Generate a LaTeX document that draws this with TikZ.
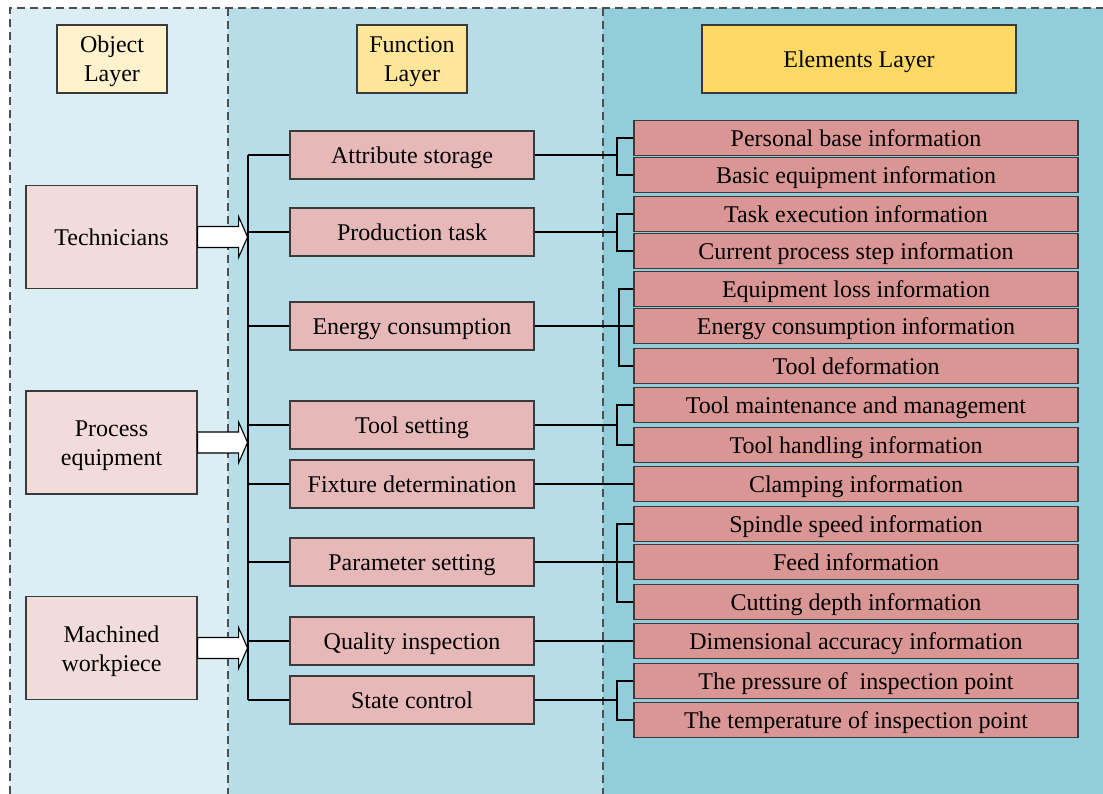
\documentclass[tikz,border=0pt]{standalone}
\usepackage{fontspec}
\setmainfont{Liberation Serif}
\usetikzlibrary{calc}
\definecolor{colA}{HTML}{DAEEF3}
\definecolor{colB}{HTML}{B7DEE8}
\definecolor{colC}{HTML}{92CDDC}
\definecolor{objfill}{HTML}{F2DCDB}
\definecolor{funfill}{HTML}{E6B9B8}
\definecolor{elfill}{HTML}{DA9694}
\definecolor{hdrA}{HTML}{FFF2CC}
\definecolor{hdrB}{HTML}{FFE699}
\definecolor{hdrC}{HTML}{FFD966}
\definecolor{edge}{HTML}{3A3A3A}
\begin{document}
\begin{tikzpicture}[x=1pt,y=-1pt,
  font=\fontsize{24}{29}\selectfont,
  box/.style={draw=edge,line width=1.1pt,inner sep=0pt,align=center,text=black},
  oneline/.style={text height=19.2pt,text depth=3pt},
  twoline/.style={text height=52pt,text depth=6pt},
  objbox/.style={box,fill=objfill,minimum width=171pt,minimum height=103pt},
  funbox/.style={box,oneline,fill=funfill,minimum width=244pt,minimum height=48pt},
  elbox/.style={box,oneline,fill=elfill,minimum width=444pt,minimum height=35pt},
  hdrbox/.style={box,minimum height=68pt},
  dashline/.style={draw=edge!90,line width=1.3pt,dash pattern=on 8pt off 5pt},
  wire/.style={draw=black,line width=1.1pt},
  blockarrow/.style={draw=black,fill=white,line width=1.1pt,line join=miter}]
\useasboundingbox (0,0) rectangle (1103,794);
% columns
\fill[colA] (10,8) rectangle (228,794);
\fill[colB] (228,8) rectangle (603,794);
\fill[colC] (603,8) rectangle (1103,794);
\draw[dashline] (10,794) -- (10,8) -- (1103,8);
\draw[dashline] (228,8) -- (228,794);
\draw[dashline] (603,8) -- (603,794);
% headers
\node[hdrbox,twoline,fill=hdrA,minimum width=110pt] (hA) at (112,59) {Object\\Layer};
\node[hdrbox,twoline,fill=hdrB,minimum width=110pt] (hB) at (412,59) {Function\\Layer};
\node[hdrbox,oneline,fill=hdrC,minimum width=314pt] (hC) at (859,59) {Elements Layer};
% object layer
\node[objbox,oneline] (o1) at (111.5,237) {Technicians};
\node[objbox,twoline] (o2) at (111.5,442.5) {Process\\equipment};
\node[objbox,twoline] (o3) at (111.5,648) {Machined\\workpiece};
% function layer
\node[funbox] (f1) at (412,155) {Attribute storage};
\node[funbox] (f2) at (412,232) {Production task};
\node[funbox] (f3) at (412,326) {Energy consumption};
\node[funbox] (f4) at (412,425) {Tool setting};
\node[funbox] (f5) at (412,484) {Fixture determination};
\node[funbox] (f6) at (412,562) {Parameter setting};
\node[funbox] (f7) at (412,641) {Quality inspection};
\node[funbox] (f8) at (412,700) {State control};
% elements layer
\node[elbox] (e1) at (856,138) {Personal base information};
\node[elbox] (e2) at (856,175) {Basic equipment information};
\node[elbox] (e3) at (856,214) {Task execution information};
\node[elbox] (e4) at (856,251) {Current process step information};
\node[elbox] (e5) at (856,289) {Equipment loss information};
\node[elbox] (e6) at (856,326) {Energy consumption information};
\node[elbox] (e7) at (856,366) {Tool deformation};
\node[elbox] (e8) at (856,405) {Tool maintenance and management};
\node[elbox] (e9) at (856,445) {Tool handling information};
\node[elbox] (e10) at (856,484) {Clamping information};
\node[elbox] (e11) at (856,524) {Spindle speed information};
\node[elbox] (e12) at (856,562) {Feed information};
\node[elbox] (e13) at (856,602) {Cutting depth information};
\node[elbox] (e14) at (856,641) {Dimensional accuracy information};
\node[elbox] (e15) at (856,681) {The pressure of\ \ inspection point};
\node[elbox] (e16) at (856,720) {The temperature of inspection point};
% bus
\coordinate (bus) at (248,0);
\coordinate (brx) at (617,0);
\coordinate (bry) at (619,0);
\draw[wire] (bus |- f1.west) -- (bus |- f8.west);
\foreach \f in {f1,f2,f3,f4,f5,f6,f7,f8}{
  \draw[wire] (\f.west) -- (bus |- \f.west);
}
% block arrows
\foreach \o in {o1,o2,o3}{
  \draw[blockarrow] ($(\o.east)+(0,-10.5)$) -- ++(41,0) -- ++(0,-10)
    -- ($(\o.east)+(50,0)$) -- ++(-9,20.5) -- ++(0,-10)
    -- ($(\o.east)+(0,10.5)$) -- cycle;
}
% brackets
\draw[wire] (f1.east) -- (brx |- f1.east);
\draw[wire] (e1.west) -- (brx |- e1.west) -- (brx |- e2.west) -- (e2.west);
\draw[wire] (f2.east) -- (brx |- f2.east);
\draw[wire] (e3.west) -- (brx |- e3.west) -- (brx |- e4.west) -- (e4.west);
\draw[wire] (f3.east) -- (f3.east -| e6.west);
\draw[wire] (e5.west) -- (bry |- e5.west) -- (bry |- e7.west) -- (e7.west);
\draw[wire] (f4.east) -- (brx |- f4.east);
\draw[wire] (e8.west) -- (brx |- e8.west) -- (brx |- e9.west) -- (e9.west);
\draw[wire] (f5.east) -- (f5.east -| e10.west);
\draw[wire] (f6.east) -- (f6.east -| e12.west);
\draw[wire] (e11.west) -- (brx |- e11.west) -- (brx |- e13.west) -- (e13.west);
\draw[wire] (f7.east) -- (f7.east -| e14.west);
\draw[wire] (f8.east) -- (brx |- f8.east);
\draw[wire] (e15.west) -- (brx |- e15.west) -- (brx |- e16.west) -- (e16.west);
\end{tikzpicture}
\end{document}
